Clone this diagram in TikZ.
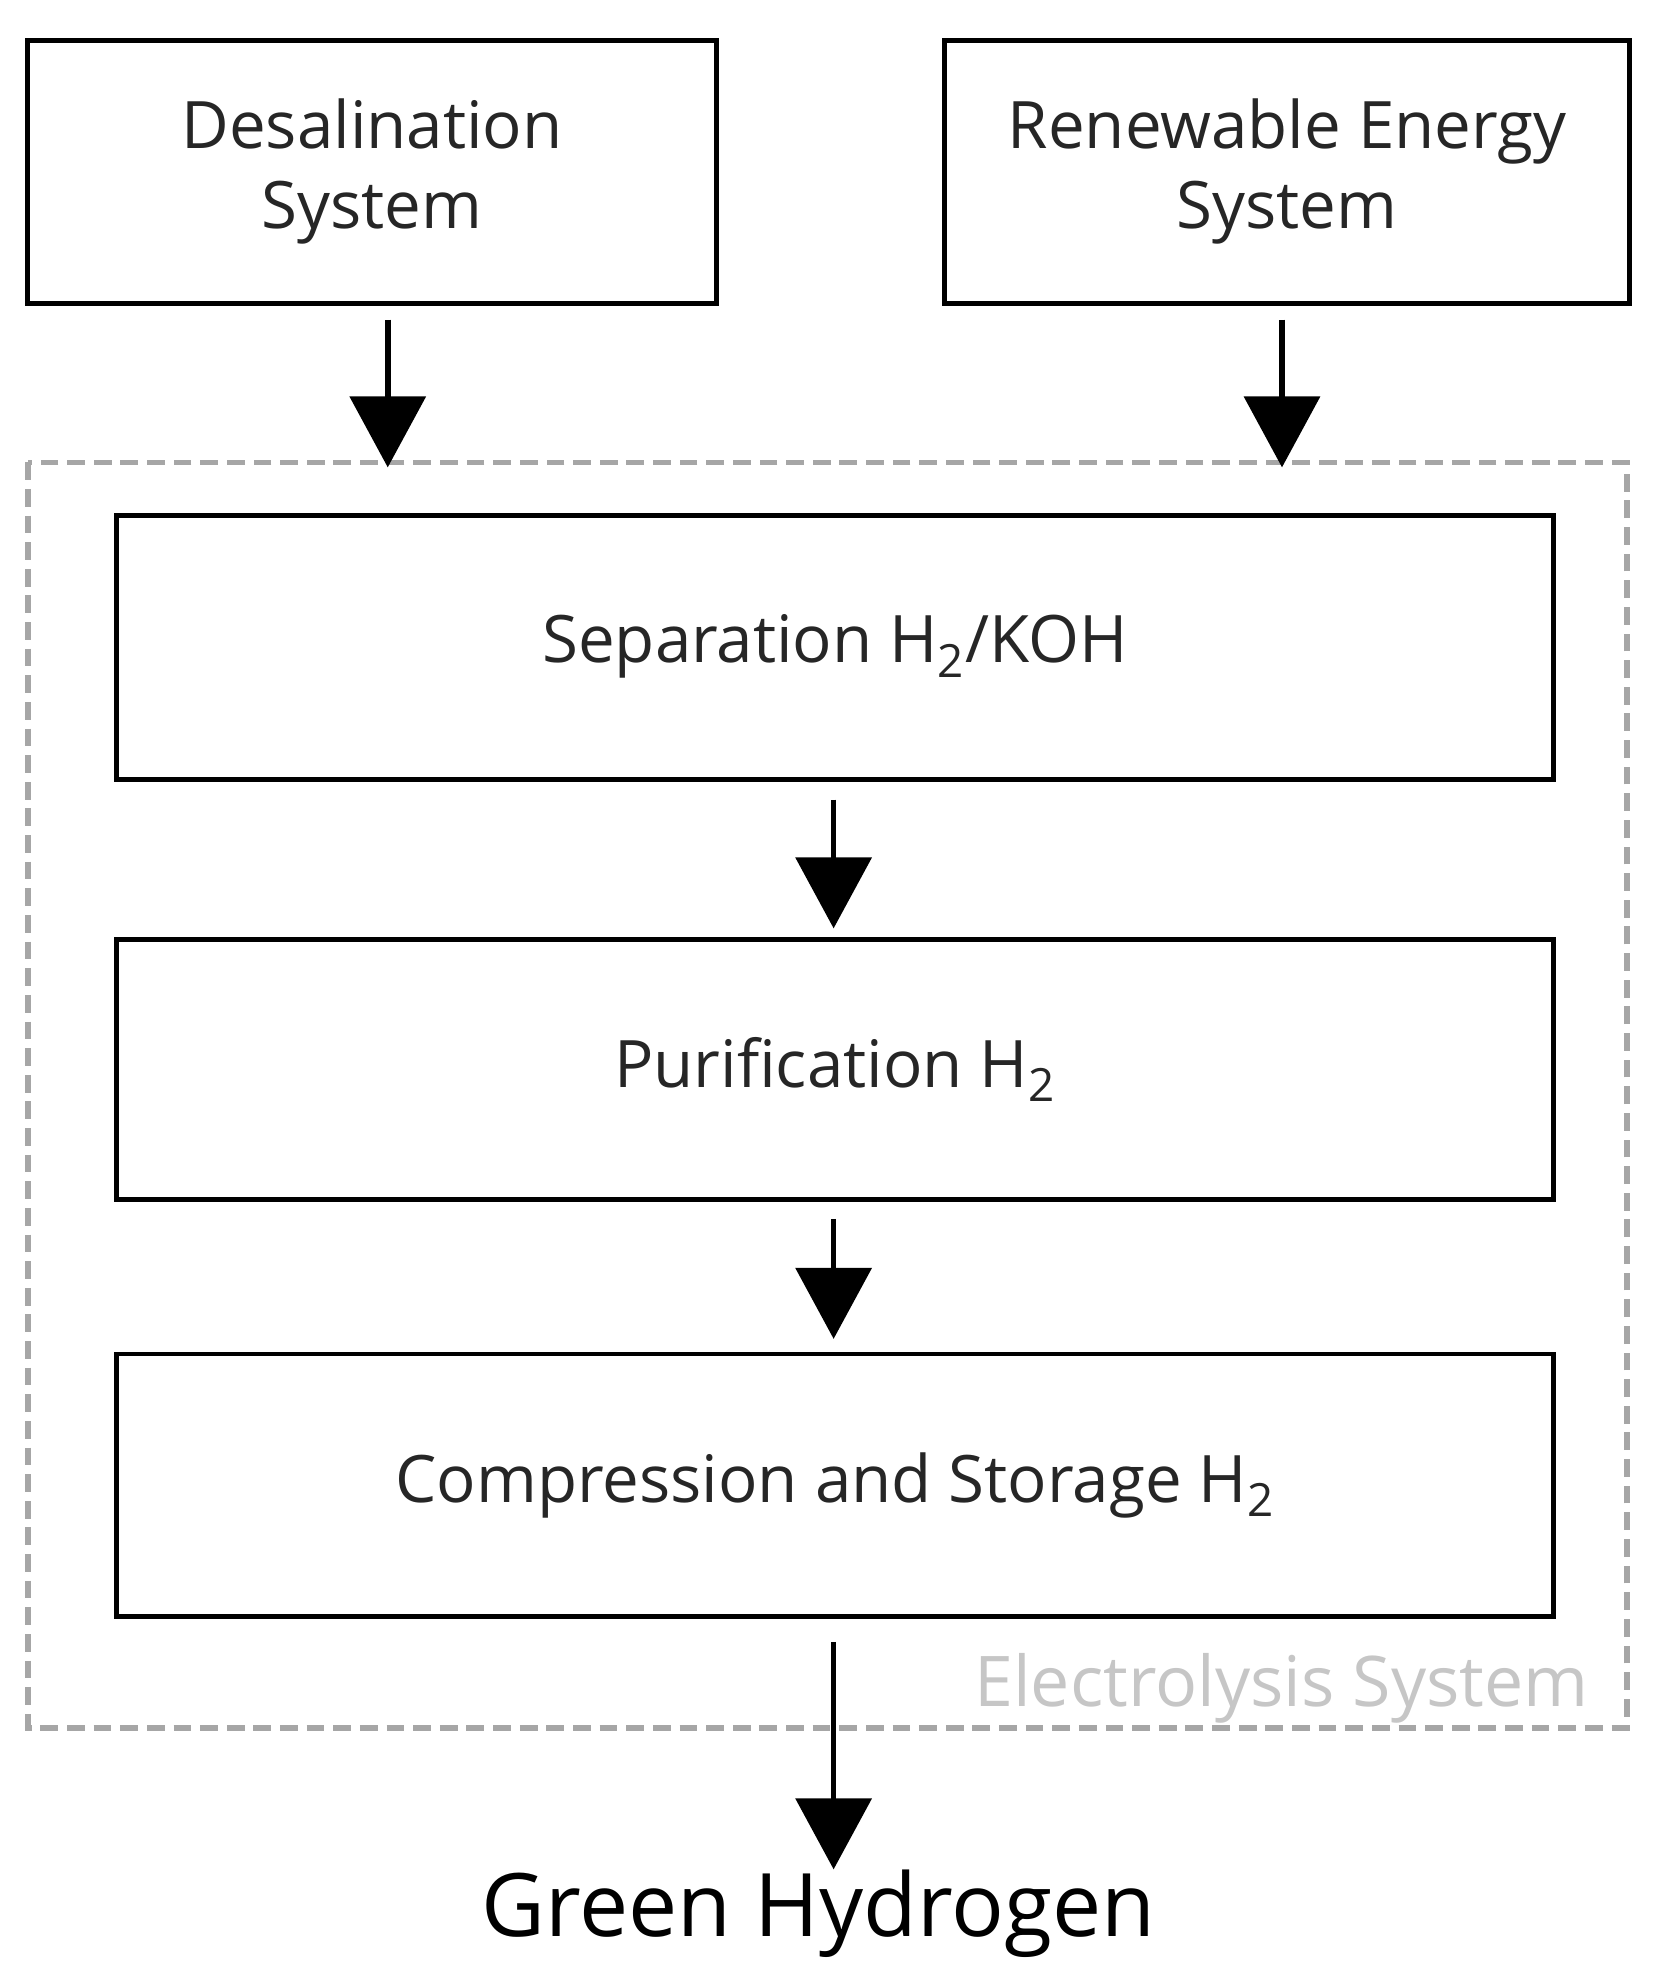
\documentclass[tikz,border=0pt]{standalone}
\usepackage{fontspec}
\setmainfont{Open Sans}
\usetikzlibrary{arrows.meta}
\begin{document}
\begin{tikzpicture}[x=0.02cm,y=-0.02cm,
  box/.style={draw=black,line width=2.2pt,inner sep=0pt},
  lbl/.style={font=\fontsize{29.5}{36}\selectfont,align=center,text=black!85},
  arr/.style={line width=2.5pt,-{Triangle[length=32pt,width=34pt]}}]
\useasboundingbox (0,0) rectangle (1310,1570);
\draw[box] (22,32) rectangle (567,240);
\node[lbl] (d) at (294.5,136) {Desalination\\System};
\draw[box] (748,32) rectangle (1290,240);
\node[lbl] (r) at (1019,136) {Renewable Energy\\System};
\draw[gray!70,line width=2.5pt,dash pattern=on 8pt off 4pt] (22,366) rectangle (1288,1368);
\node[font=\fontsize{31.5}{36}\selectfont,text=gray!45,anchor=east] (e) at (1264,1337) {Electrolysis System};
\draw[box] (92,408) rectangle (1230,617);
\node[lbl] (s) at (661,512) {Separation H\textsubscript{2}/KOH};
\draw[box] (92,744) rectangle (1230,950);
\node[lbl] (p) at (661,847) {Purification H\textsubscript{2}};
\draw[box] (92,1072) rectangle (1230,1280);
\node[lbl] (c) at (661,1176) {Compression and Storage H\textsubscript{2}};
\node[font=\fontsize{39.5}{46}\selectfont,text=black] (g) at (648,1515) {Green Hydrogen};
\coordinate (a1) at (307,253); \coordinate (a2) at (307,370);
\coordinate (b1) at (1015,253); \coordinate (b2) at (1015,370);
\coordinate (c1) at (660,633); \coordinate (c2) at (660,735);
\coordinate (d1) at (660,965); \coordinate (d2) at (660,1060);
\coordinate (f1) at (660,1300); \coordinate (f2) at (660,1480);
\draw[arr] (a1) -- (a2);
\draw[arr] (b1) -- (b2);
\draw[arr] (c1) -- (c2);
\draw[arr] (d1) -- (d2);
\draw[arr] (f1) -- (f2);
\end{tikzpicture}
\end{document}
